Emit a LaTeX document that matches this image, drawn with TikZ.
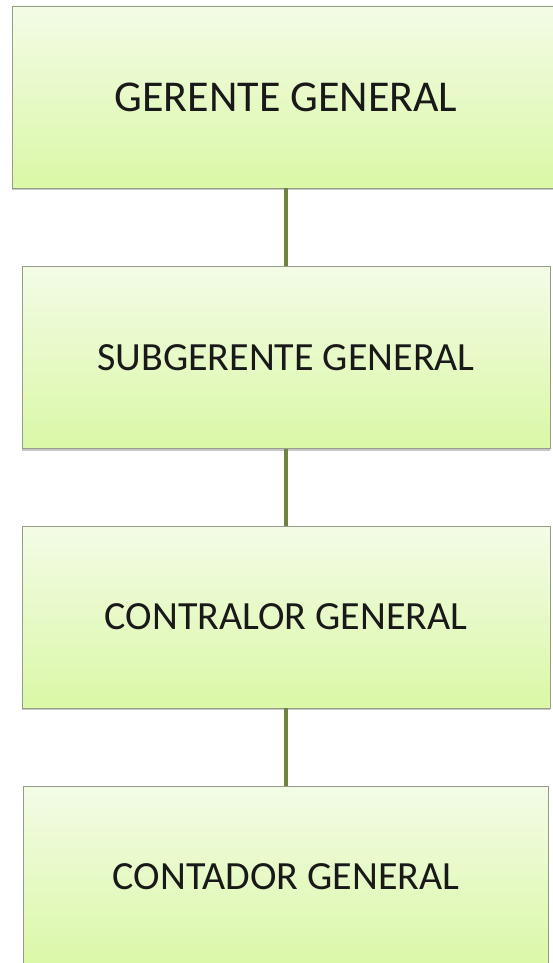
\documentclass[tikz,border=0pt]{standalone}
\usepackage{fontspec}
\setmainfont{Carlito}
\usepackage{tikz}
\usetikzlibrary{positioning,shadows}
\definecolor{orgtop}{RGB}{243,251,230}
\definecolor{orgbottom}{RGB}{218,248,166}
\definecolor{orgborder}{RGB}{150,158,138}
\definecolor{orgline}{RGB}{112,130,64}
\tikzstyle{cargo} = [rectangle, text centered, draw=orgborder, line width=0.8pt, top color=orgtop, bottom color=orgbottom, minimum width=528pt, minimum height=182pt, inner sep=0pt, text=black!90, font=\fontsize{40}{48}\selectfont, drop shadow={shadow xshift=0pt, shadow yshift=-2pt, opacity=0.45}]
\tikzstyle{link} = [draw=orgline, line width=3.2pt]

\begin{document}
\begin{tikzpicture}[node distance=260pt]

\useasboundingbox (0,0) rectangle (552pt,-963pt);

\node (gerente) [cargo, minimum width=548pt, font=\fontsize{44}{52}\selectfont] at (286pt,-97pt) {GERENTE GENERAL};

\node (subgerente) [cargo, below of=gerente, yshift=-0.5pt] {SUBGERENTE GENERAL};

\node (contralor) [cargo, below of=subgerente, yshift=0.5pt] {CONTRALOR GENERAL};

\node (contador) [cargo, below of=contralor, minimum width=525pt] {CONTADOR GENERAL};

\draw [link] (gerente) -- (subgerente);
\draw [link] (subgerente) -- (contralor);
\draw [link] (contralor) -- (contador);

\end{tikzpicture}
\end{document}
